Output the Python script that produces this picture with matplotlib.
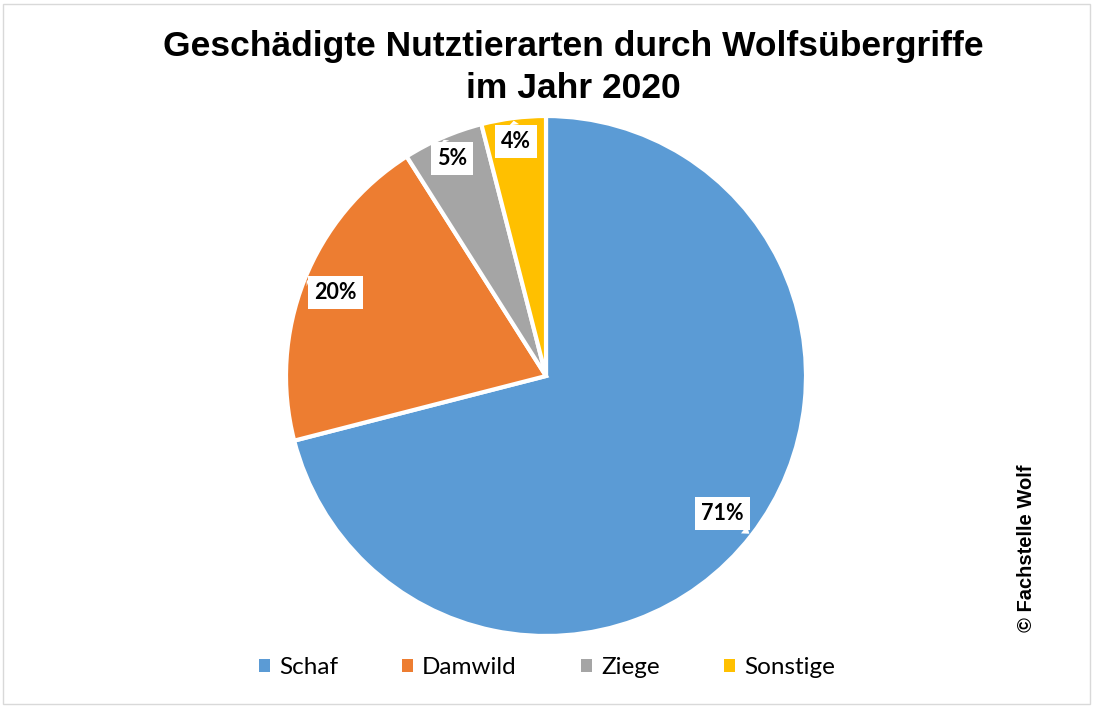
import numpy as np
import matplotlib
matplotlib.use("Agg")
import matplotlib.pyplot as plt
from matplotlib.patches import Patch, Rectangle

categories = ["Schaf", "Damwild", "Ziege", "Sonstige"]
values = [71, 20, 5, 4]
colors = ["#5B9BD5", "#ED7D31", "#A5A5A5", "#FFC000"]
title_lines = ["Geschädigte Nutztierarten durch Wolfsübergriffe", "im Jahr 2020"]
credit = "© Fachstelle Wolf"

# how far from the centre each data label sits (fraction of radius)
label_dist = [0.86, 0.87, 0.91, 0.91]

W, H = 1094, 708
fig = plt.figure(figsize=(W / 100, H / 100), dpi=100)

# pie centre and radius in pixels
cx, cy, r = 546, 376, 260
ax = fig.add_axes([(cx - r) / W, (H - cy - r) / H, 2 * r / W, 2 * r / H])

wedges, _ = ax.pie(
    values,
    colors=colors,
    startangle=90,
    counterclock=False,
    wedgeprops=dict(edgecolor="white", linewidth=3),
)
ax.set_xlim(-1, 1)
ax.set_ylim(-1, 1)
ax.set_aspect("equal")
ax.axis("off")

for w, v, d in zip(wedges, values, label_dist):
    ang = np.deg2rad((w.theta1 + w.theta2) / 2)
    ax.annotate(
        f"{v}%",
        xy=(np.cos(ang) * 0.99, np.sin(ang) * 0.99),
        xytext=(np.cos(ang) * d, np.sin(ang) * d),
        ha="center", va="center",
        fontsize=15.5, fontweight="bold", family="Lato",
        bbox=dict(boxstyle="square,pad=0.28", fc="white", ec="none"),
        arrowprops=dict(arrowstyle="wedge,tail_width=0.45", fc="white", ec="none",
                        shrinkA=0, shrinkB=0),
    )

# title, one line at a time (baselines in px from top)
for line, base in zip(title_lines, [56, 98]):
    fig.text(573 / W, 1 - base / H, line, ha="center", va="baseline",
             fontsize=25.5, fontweight="bold", family="Liberation Sans")

fig.text(1027 / W, 1 - 548 / H, credit, rotation=90, ha="center", va="center",
         fontsize=14.5, fontweight="bold", family="Liberation Sans")

handles = [Patch(facecolor=c, edgecolor="none") for c in colors]
fig.legend(handles, categories, loc="center",
           bbox_to_anchor=(547 / W, 1 - 668 / H), ncol=4, frameon=False,
           prop=dict(family="Lato", size=17.5),
           handlelength=0.45, handleheight=0.45, handletextpad=0.37,
           columnspacing=2.65)

# light frame round the chart area
fig.patches.append(Rectangle((3 / W, 4 / H), (W - 7) / W, (H - 8) / H,
                             transform=fig.transFigure, fill=False,
                             edgecolor="#D9D9D9", linewidth=1))

fig.savefig("out.png", dpi=100)
